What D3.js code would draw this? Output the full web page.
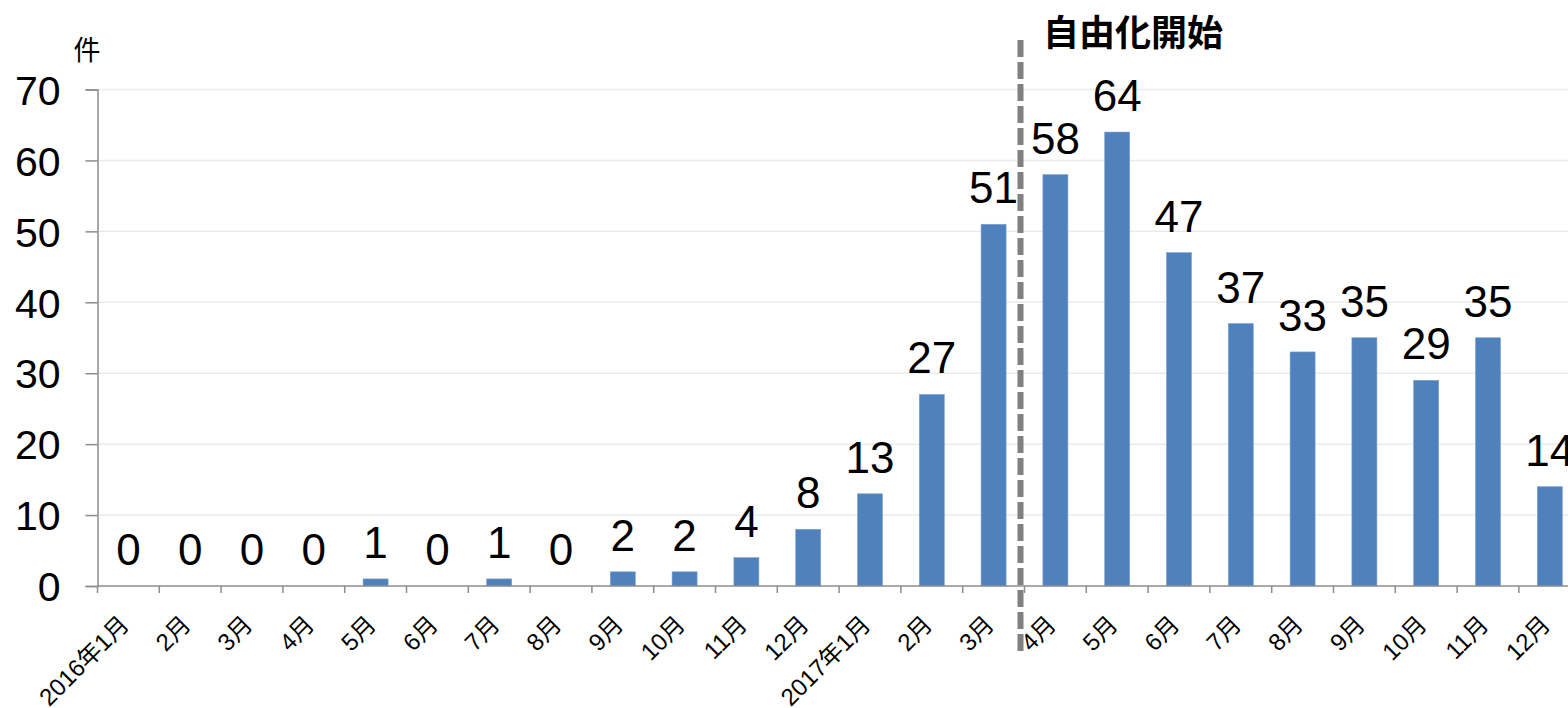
<!DOCTYPE html>
<html>
<head>
<meta charset="utf-8">
<script src="https://cdn.jsdelivr.net/npm/d3@7"></script>
<style>
  html, body { margin: 0; padding: 0; background: #fff; }
  svg { display: block; font-family: "Liberation Sans", Arial, "Noto Sans CJK JP", sans-serif; }
</style>
</head>
<body>
<svg id="chart" width="1568" height="708"></svg>
<script>
// Monthly counts, Jan 2016 – Dec 2017
const months = ["2016年1月","2月","3月","4月","5月","6月","7月","8月","9月","10月","11月","12月",
                "2017年1月","2月","3月","4月","5月","6月","7月","8月","9月","10月","11月","12月"];
const counts = [0,0,0,0,1,0,1,0,2,2,4,8,13,27,51,58,64,47,37,33,35,29,35,14];
const yTicks = [0,10,20,30,40,50,60,70];
const unitLabel = "件";
const markerLabel = "自由化開始";
const markerIndex = 15; // first month after the change

const svg = d3.select("#chart");
const plotLeft = 97.5, plotStep = 61.8, plotTop = 89.5, plotBottom = 586;

// index keys keep repeated month names distinct
const keys = months.map((m, i) => i);
const x = d3.scaleBand()
  .domain(keys)
  .range([plotLeft, plotLeft + plotStep * months.length])
  .paddingInner(0.595)
  .paddingOuter(0.2975);
const y = d3.scaleLinear().domain([0, 70]).range([plotBottom, plotTop]);

// gridlines
svg.append("g").selectAll("line")
  .data(yTicks.filter(d => d > 0))
  .join("line")
  .attr("x1", plotLeft).attr("x2", 1568)
  .attr("y1", d => y(d)).attr("y2", d => y(d))
  .attr("stroke", "#ebebeb").attr("stroke-width", 1.5);

// bars
svg.append("g").selectAll("rect")
  .data(counts)
  .join("rect")
  .attr("x", (d, i) => x(i))
  .attr("width", x.bandwidth())
  .attr("y", d => y(d))
  .attr("height", d => plotBottom - y(d))
  .attr("fill", "#4f81bd")
  .attr("stroke", "#7fa3d0").attr("stroke-width", 0.6);

// y axis
const yAxis = d3.axisLeft(y).tickValues(yTicks).tickSize(12).tickPadding(25);
const gy = svg.append("g").attr("transform", `translate(${plotLeft},0)`).call(yAxis);
gy.select(".domain").attr("stroke", "#8c8c8c").attr("stroke-width", 1.5);
gy.selectAll(".tick line").attr("stroke", "#8c8c8c").attr("stroke-width", 1.5);
gy.selectAll(".tick text")
  .attr("font-size", 41).attr("fill", "#000")
  .attr("font-family", "'Liberation Sans', Arial, sans-serif")
  .attr("dy", "0.36em");

// x axis line and boundary ticks
svg.append("line")
  .attr("x1", plotLeft).attr("x2", 1568)
  .attr("y1", plotBottom).attr("y2", plotBottom)
  .attr("stroke", "#8c8c8c").attr("stroke-width", 1.5);
svg.append("g").selectAll("line")
  .data(d3.range(months.length + 1))
  .join("line")
  .attr("x1", i => plotLeft + i * x.step()).attr("x2", i => plotLeft + i * x.step())
  .attr("y1", plotBottom).attr("y2", plotBottom + 7)
  .attr("stroke", "#8c8c8c").attr("stroke-width", 1.5);

// x labels, rotated
svg.append("g").selectAll("text")
  .data(months)
  .join("text")
  .attr("transform", (d, i) => `translate(${x(i) + x.bandwidth() / 2 + 2},${plotBottom + 40}) rotate(-45)`)
  .attr("text-anchor", "end")
  .attr("font-size", 24)
  .attr("fill", "#000")
  .text(d => d);

// value labels
svg.append("g").selectAll("text")
  .data(counts)
  .join("text")
  .attr("x", (d, i) => x(i) + x.bandwidth() / 2)
  .attr("y", d => y(d) - 21)
  .attr("text-anchor", "middle")
  .attr("font-size", 44)
  .attr("fill", "#000")
  .text(d => d);

// unit label
svg.append("text")
  .attr("x", 87).attr("y", 60)
  .attr("text-anchor", "middle")
  .attr("font-size", 27)
  .attr("font-family", "'Noto Sans CJK JP', sans-serif")
  .attr("fill", "#000")
  .text(unitLabel);

// dashed marker between the two periods
const markerX = (x(markerIndex - 1) + x.bandwidth() + x(markerIndex)) / 2 - 4;
svg.append("line")
  .attr("x1", markerX).attr("x2", markerX)
  .attr("y1", 40).attr("y2", 656)
  .attr("stroke", "#808080").attr("stroke-width", 6)
  .attr("stroke-dasharray", "17,5");

svg.append("text")
  .attr("x", x(markerIndex)).attr("y", 46)
  .attr("font-size", 36)
  .attr("font-weight", "bold")
  .attr("font-family", "'Noto Sans CJK JP', sans-serif")
  .attr("fill", "#000")
  .text(markerLabel);
</script>
</body>
</html>
